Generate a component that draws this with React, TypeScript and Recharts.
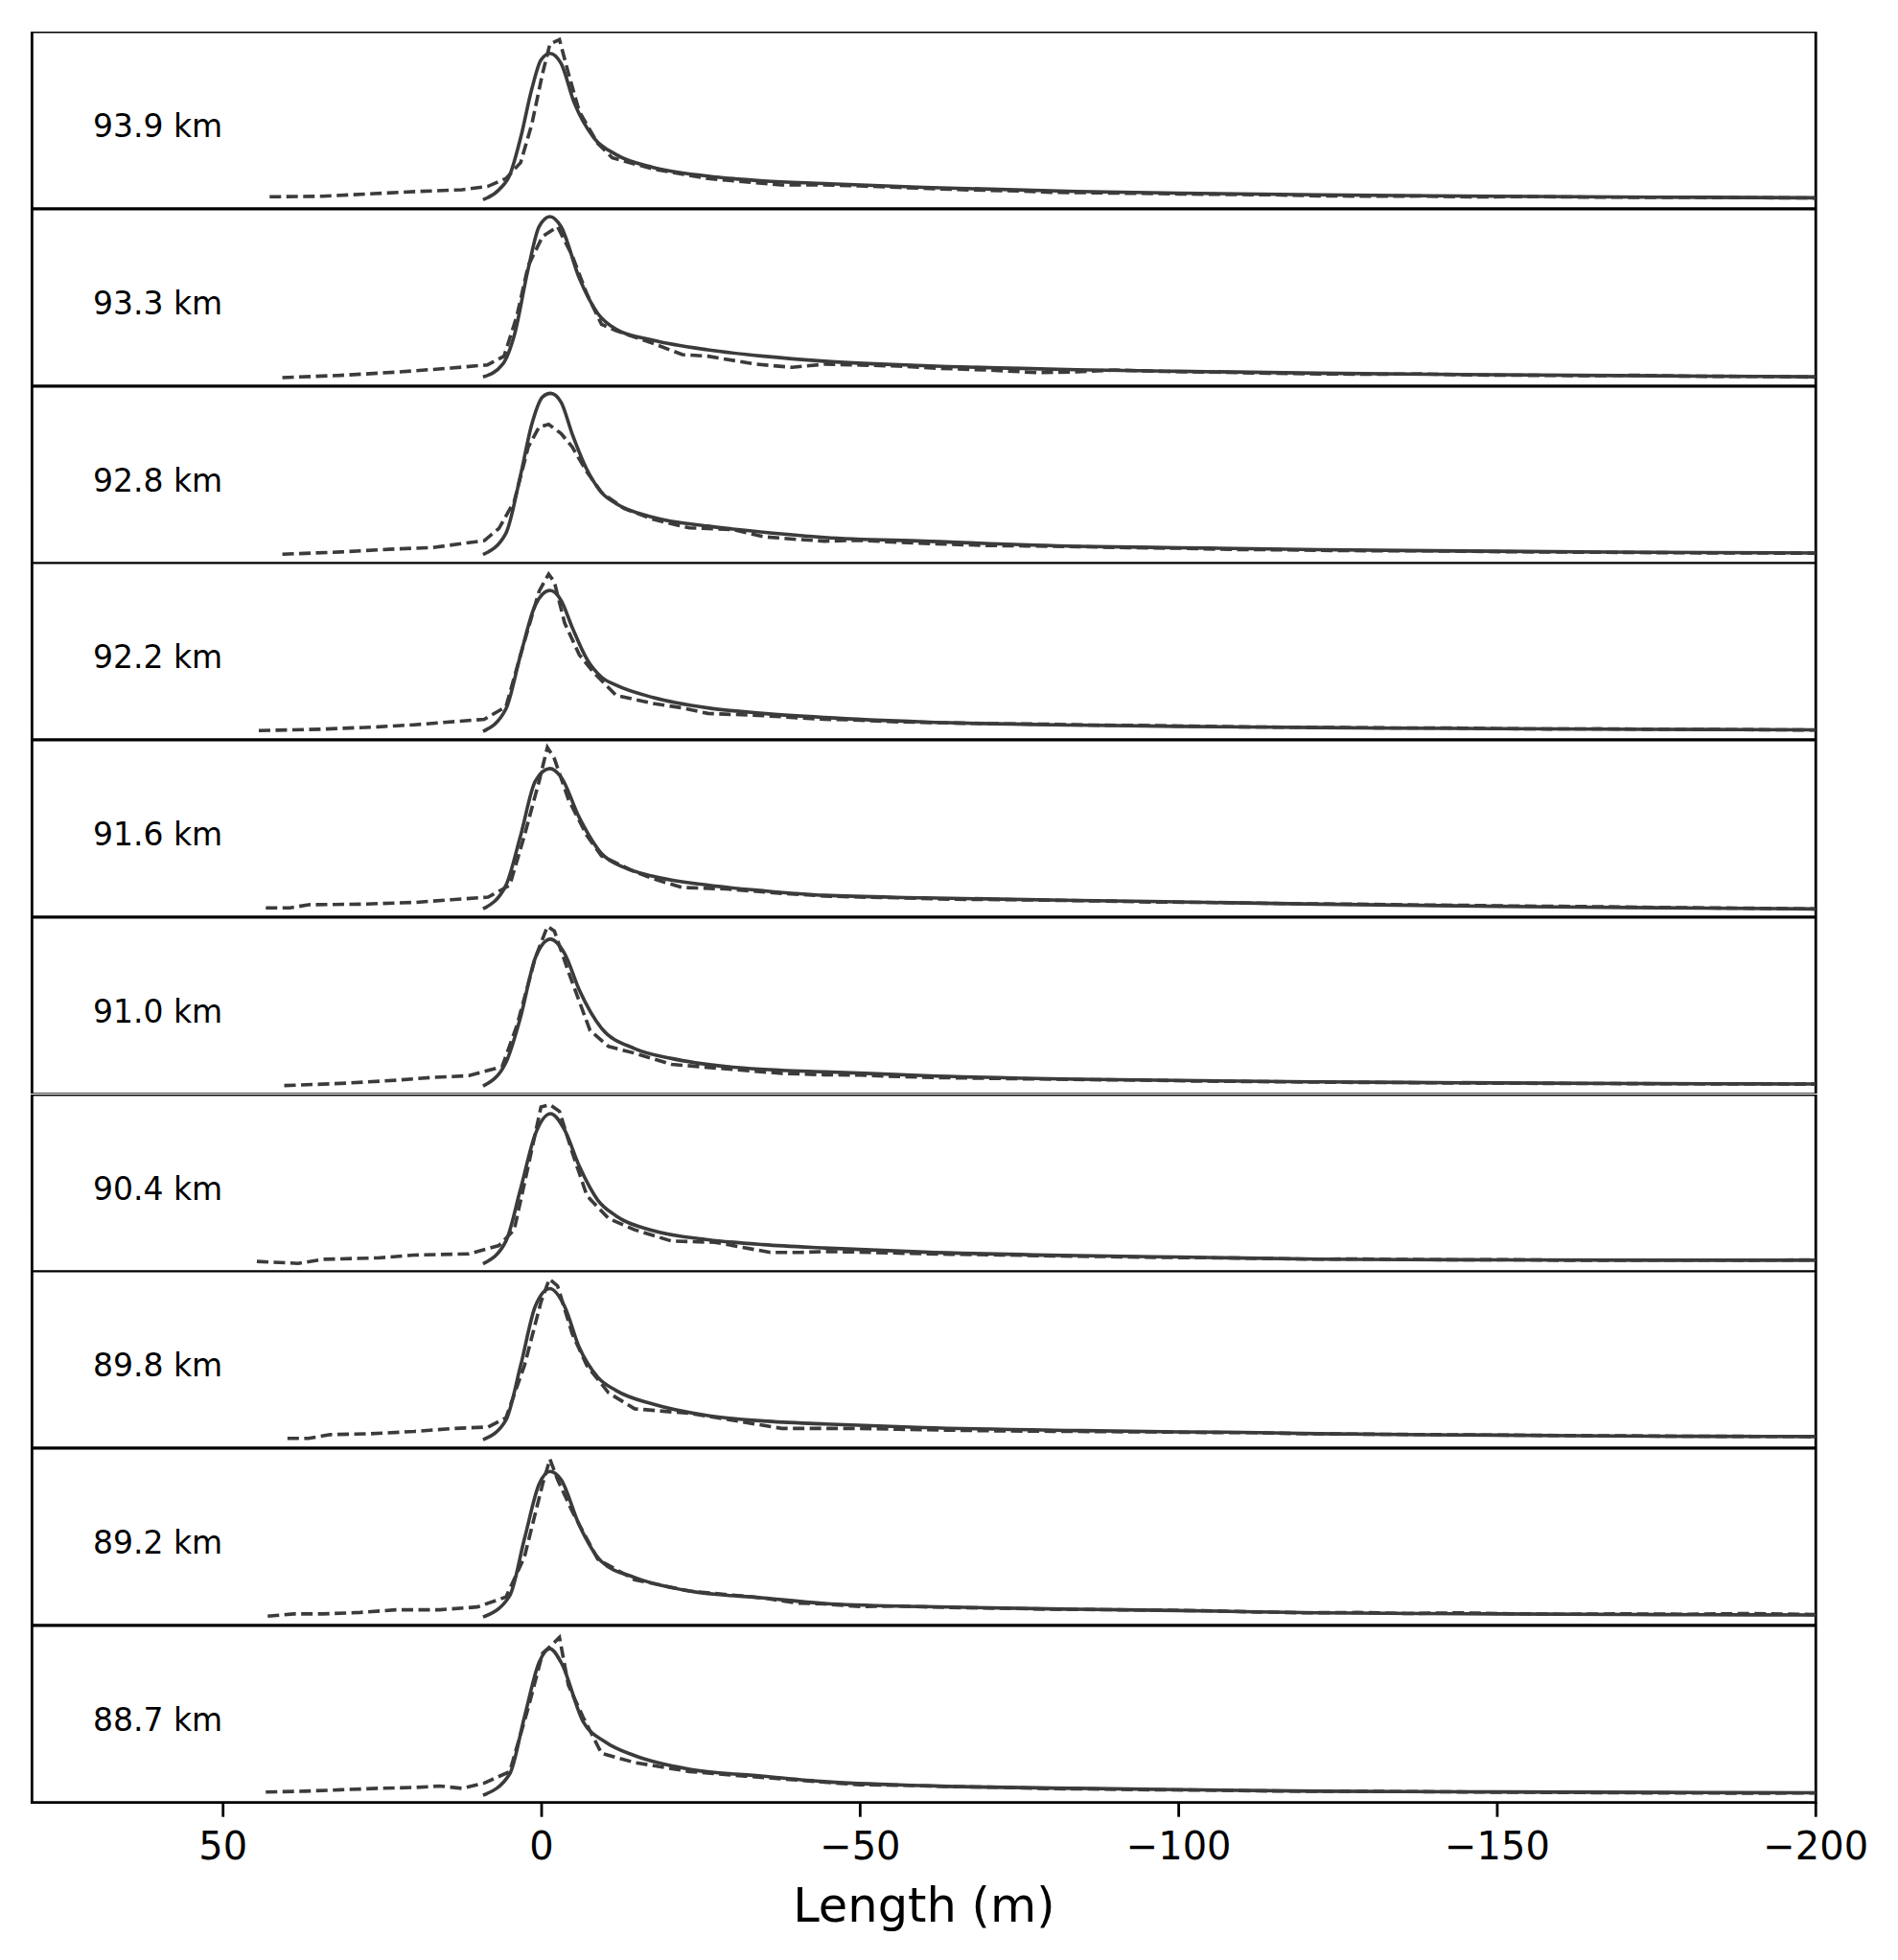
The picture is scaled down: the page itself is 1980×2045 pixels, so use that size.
import React from 'react';
import { LineChart, Line, XAxis, YAxis, ReferenceArea } from 'recharts';

type Pt = [number, number];

const panelLabels = ['93.9 km', '93.3 km', '92.8 km', '92.2 km', '91.6 km', '91.0 km', '90.4 km', '89.8 km', '89.2 km', '88.7 km'];
const xTicks = [50, 0, -50, -100, -150, -200];

const solid939: Pt[] = [[9.2,0.05],[6.7,0.107],[5.0,0.19],[3.3,0.40],[1.55,0.675],[0.1,0.84],[-1.3,0.877],[-3.05,0.82],[-5.1,0.60],[-8.2,0.40],[-11.7,0.305],[-17.5,0.233],[-26.1,0.184],[-34.8,0.157],[-44.4,0.142],[-60,0.12],[-84,0.097],[-100,0.088],[-122,0.078],[-150,0.07],[-175,0.065],[-200,0.061]];
const dashed939: Pt[] = [[42.7,0.067],[34.4,0.07],[26.3,0.085],[19.4,0.097],[12.5,0.107],[8.5,0.125],[5.6,0.17],[3.3,0.26],[1.55,0.476],[-0.15,0.765],[-1.3,0.93],[-2.8,0.955],[-4.2,0.765],[-5.9,0.55],[-8.8,0.368],[-11.1,0.287],[-17.5,0.224],[-26.1,0.17],[-37.6,0.134],[-44.4,0.134],[-50,0.128],[-56,0.12],[-62,0.112],[-68,0.105],[-75,0.1],[-80,0.092],[-86,0.09],[-92,0.087],[-100,0.083],[-108,0.08],[-115,0.078],[-122,0.072],[-130,0.07],[-138,0.071],[-146,0.066],[-155,0.068],[-164,0.065],[-172,0.064],[-180,0.063],[-190,0.062],[-200,0.06]];

const solid933: Pt[] = [[9.2,0.051],[6.1,0.123],[4.3,0.285],[2.1,0.664],[0.4,0.90],[-1.3,0.957],[-3.05,0.90],[-5.9,0.61],[-8.8,0.41],[-11.7,0.32],[-17.5,0.258],[-26.1,0.204],[-34.8,0.168],[-44.4,0.14],[-60,0.115],[-84,0.092],[-100,0.083],[-122,0.072],[-150,0.063],[-175,0.057],[-200,0.052]];
const dashed933: Pt[] = [[40.7,0.047],[31.5,0.06],[22.9,0.078],[14.2,0.101],[8.5,0.119],[5.9,0.168],[3.9,0.394],[2.1,0.68],[-0.15,0.845],[-2.5,0.90],[-4.8,0.736],[-7.1,0.52],[-9.4,0.348],[-11.7,0.312],[-17.5,0.24],[-22.1,0.177],[-26.1,0.168],[-33.6,0.123],[-39.3,0.105],[-44.4,0.123],[-50,0.118],[-56,0.112],[-62,0.1],[-70,0.09],[-78,0.075],[-84,0.08],[-90,0.09],[-98,0.082],[-106,0.078],[-114,0.072],[-122,0.068],[-130,0.066],[-138,0.068],[-146,0.062],[-155,0.06],[-164,0.058],[-172,0.06],[-180,0.055],[-190,0.054],[-200,0.05]];

const solid928: Pt[] = [[9.2,0.049],[5.6,0.17],[3.3,0.50],[1.55,0.785],[-0.15,0.94],[-1.4,0.96],[-3.05,0.91],[-4.8,0.73],[-7.1,0.53],[-9.4,0.40],[-11.7,0.337],[-17.5,0.26],[-26.1,0.21],[-34.8,0.176],[-44.4,0.146],[-60,0.125],[-84,0.096],[-100,0.088],[-122,0.077],[-150,0.068],[-175,0.062],[-200,0.058]];
const dashed928: Pt[] = [[40.7,0.051],[31.5,0.064],[24,0.079],[17.1,0.089],[9.0,0.128],[6.7,0.197],[4.3,0.35],[2.1,0.657],[0.4,0.77],[-1.1,0.785],[-3.05,0.733],[-4.8,0.657],[-7.1,0.516],[-9.4,0.40],[-12.9,0.31],[-17.5,0.248],[-23.2,0.20],[-27,0.195],[-30.1,0.19],[-34.8,0.15],[-40,0.135],[-44.4,0.125],[-50,0.13],[-56,0.118],[-62,0.11],[-70,0.1],[-76,0.098],[-84,0.094],[-92,0.088],[-100,0.085],[-108,0.078],[-116,0.076],[-124,0.072],[-132,0.07],[-140,0.07],[-148,0.066],[-156,0.064],[-165,0.062],[-175,0.06],[-185,0.058],[-200,0.057]];

const solid922: Pt[] = [[9.2,0.046],[5.6,0.174],[3.3,0.48],[1.0,0.76],[-1.3,0.843],[-3.05,0.787],[-4.8,0.634],[-7.1,0.455],[-9.4,0.353],[-11.7,0.307],[-17.5,0.238],[-26.1,0.179],[-34.8,0.148],[-44.4,0.125],[-60,0.1],[-84,0.082],[-100,0.075],[-122,0.068],[-150,0.062],[-175,0.058],[-200,0.055]];
const dashed922: Pt[] = [[44.4,0.051],[34.4,0.059],[25.7,0.072],[20,0.084],[15.4,0.097],[9.0,0.115],[5.6,0.186],[3.3,0.48],[0.4,0.838],[-1.1,0.935],[-2.0,0.89],[-3.6,0.66],[-5.9,0.48],[-8.2,0.378],[-11.7,0.25],[-17.5,0.204],[-22.1,0.179],[-26.1,0.148],[-34.8,0.135],[-44.4,0.115],[-50,0.11],[-56,0.1],[-62,0.096],[-70,0.09],[-78,0.088],[-86,0.082],[-94,0.08],[-102,0.076],[-110,0.072],[-118,0.07],[-126,0.068],[-134,0.066],[-142,0.066],[-150,0.062],[-158,0.06],[-166,0.061],[-175,0.058],[-185,0.057],[-200,0.054]];

const solid916: Pt[] = [[9.2,0.046],[5.6,0.179],[3.3,0.46],[1.0,0.766],[-1.3,0.838],[-3.05,0.79],[-5.9,0.562],[-9.4,0.358],[-12.9,0.28],[-17.5,0.23],[-26.1,0.179],[-34.8,0.148],[-44.4,0.122],[-60,0.108],[-84,0.093],[-100,0.085],[-122,0.072],[-150,0.06],[-175,0.052],[-200,0.045]];
const dashed916: Pt[] = [[43.3,0.051],[39.5,0.051],[36.6,0.069],[28.5,0.072],[19.9,0.082],[14.2,0.097],[8.4,0.112],[5.0,0.179],[2.7,0.46],[0.4,0.766],[-0.9,0.958],[-2.0,0.894],[-4.2,0.664],[-7.1,0.46],[-9.4,0.345],[-14.6,0.255],[-18,0.21],[-22.1,0.166],[-29,0.158],[-37.7,0.133],[-44.4,0.118],[-50,0.112],[-56,0.108],[-64,0.1],[-72,0.098],[-80,0.094],[-88,0.09],[-96,0.084],[-104,0.082],[-112,0.078],[-120,0.074],[-128,0.072],[-136,0.068],[-144,0.066],[-152,0.062],[-160,0.06],[-170,0.056],[-180,0.052],[-190,0.049],[-200,0.045]];

const solid910: Pt[] = [[9.2,0.046],[5.6,0.18],[3.3,0.437],[1.0,0.77],[-1.4,0.876],[-3.6,0.795],[-5.9,0.59],[-9.4,0.373],[-14.6,0.258],[-20.4,0.202],[-29,0.156],[-37.7,0.135],[-44.4,0.127],[-60,0.105],[-84,0.085],[-100,0.078],[-122,0.07],[-150,0.064],[-175,0.06],[-200,0.058]];
const dashed910: Pt[] = [[40.4,0.049],[31.5,0.061],[22.9,0.079],[17.1,0.095],[11.4,0.105],[6.2,0.156],[3.9,0.386],[1.0,0.77],[-0.9,0.948],[-2.0,0.922],[-4.2,0.692],[-7.6,0.36],[-10.5,0.27],[-14.6,0.232],[-20.4,0.169],[-29,0.143],[-37.7,0.118],[-44.4,0.11],[-50,0.108],[-56,0.1],[-62,0.094],[-70,0.09],[-78,0.086],[-86,0.082],[-94,0.08],[-102,0.075],[-110,0.072],[-118,0.07],[-126,0.067],[-134,0.066],[-142,0.064],[-150,0.062],[-160,0.061],[-170,0.06],[-180,0.059],[-190,0.058],[-200,0.057]];

const solid904: Pt[] = [[9.2,0.044],[5.6,0.172],[3.3,0.468],[1.0,0.776],[-1.4,0.892],[-3.6,0.80],[-5.9,0.596],[-8.8,0.404],[-11.7,0.314],[-17.5,0.231],[-26.1,0.18],[-34.8,0.152],[-44.4,0.133],[-60,0.11],[-84,0.09],[-100,0.082],[-122,0.07],[-150,0.066],[-175,0.064],[-200,0.064]];
const dashed904: Pt[] = [[44.7,0.057],[38.2,0.046],[34.4,0.069],[25.7,0.077],[20,0.093],[11.4,0.10],[6.7,0.147],[4.3,0.237],[2.1,0.596],[0.1,0.93],[-1.3,0.943],[-2.8,0.905],[-4.8,0.674],[-7.1,0.429],[-10.5,0.30],[-14.6,0.236],[-20.4,0.172],[-27.2,0.165],[-35.9,0.108],[-40.5,0.108],[-44.4,0.113],[-50,0.11],[-56,0.104],[-64,0.098],[-72,0.094],[-80,0.088],[-88,0.085],[-96,0.08],[-104,0.078],[-112,0.075],[-120,0.07],[-128,0.071],[-136,0.068],[-144,0.066],[-152,0.067],[-160,0.064],[-170,0.064],[-180,0.065],[-190,0.064],[-200,0.066]];

const solid898: Pt[] = [[9.2,0.046],[5.6,0.157],[3.3,0.465],[1.0,0.80],[-1.3,0.90],[-3.6,0.80],[-5.9,0.568],[-8.8,0.40],[-11.7,0.324],[-17.5,0.247],[-26.1,0.182],[-34.8,0.152],[-44.4,0.135],[-60,0.115],[-84,0.098],[-100,0.09],[-110,0.088],[-122,0.08],[-150,0.072],[-175,0.066],[-200,0.064]];
const dashed898: Pt[] = [[39.9,0.054],[36.6,0.054],[33.2,0.075],[26.9,0.08],[20,0.093],[13.7,0.11],[8.4,0.118],[5.6,0.17],[2.7,0.465],[0.1,0.825],[-1.2,0.954],[-2.5,0.915],[-4.8,0.645],[-7.1,0.465],[-10.5,0.311],[-14.6,0.221],[-23.2,0.195],[-29,0.162],[-37.7,0.11],[-44.4,0.11],[-50,0.11],[-56,0.105],[-64,0.1],[-72,0.096],[-80,0.094],[-88,0.092],[-96,0.09],[-104,0.087],[-112,0.086],[-120,0.08],[-128,0.078],[-136,0.076],[-144,0.074],[-152,0.072],[-160,0.07],[-170,0.068],[-180,0.066],[-190,0.065],[-200,0.064]];

const solid892: Pt[] = [[9.2,0.046],[5.0,0.167],[2.7,0.488],[0.4,0.797],[-1.3,0.869],[-3.05,0.823],[-5.9,0.566],[-9.4,0.36],[-14.6,0.27],[-23.2,0.193],[-34.8,0.154],[-44.4,0.123],[-60,0.105],[-84,0.09],[-100,0.083],[-122,0.07],[-150,0.064],[-175,0.06],[-200,0.058]];
const dashed892: Pt[] = [[43,0.051],[38.9,0.064],[34.4,0.064],[28.5,0.072],[22.9,0.087],[16,0.087],[10.1,0.103],[5.6,0.159],[2.7,0.386],[-0.15,0.797],[-1.3,0.938],[-2.5,0.823],[-4.8,0.643],[-8.8,0.373],[-14.6,0.257],[-23.2,0.193],[-34.8,0.154],[-40,0.125],[-44.4,0.12],[-50,0.105],[-56,0.108],[-64,0.1],[-72,0.096],[-80,0.09],[-88,0.088],[-96,0.085],[-104,0.082],[-112,0.075],[-120,0.07],[-128,0.072],[-136,0.066],[-144,0.07],[-152,0.065],[-160,0.062],[-170,0.064],[-180,0.062],[-190,0.066],[-200,0.06]];

const solid887: Pt[] = [[9.2,0.041],[5.0,0.162],[2.7,0.483],[0.4,0.792],[-1.3,0.869],[-3.05,0.792],[-6.5,0.458],[-10,0.342],[-14.6,0.265],[-23.2,0.188],[-34.8,0.149],[-44.4,0.118],[-60,0.095],[-84,0.08],[-100,0.073],[-122,0.064],[-150,0.06],[-175,0.057],[-200,0.055]];
const dashed887: Pt[] = [[43.3,0.059],[37.2,0.064],[31.5,0.072],[25.7,0.08],[20,0.085],[16,0.093],[12.5,0.08],[9.0,0.11],[5.0,0.175],[2.1,0.535],[-0.15,0.843],[-1.3,0.88],[-2.8,0.933],[-4.2,0.663],[-6.5,0.483],[-9.4,0.278],[-14.6,0.226],[-23.2,0.175],[-32,0.149],[-44.4,0.115],[-50,0.1],[-56,0.098],[-64,0.09],[-72,0.086],[-80,0.078],[-88,0.076],[-96,0.072],[-104,0.07],[-112,0.066],[-120,0.064],[-128,0.063],[-136,0.062],[-144,0.06],[-152,0.058],[-160,0.057],[-170,0.055],[-180,0.054],[-190,0.053],[-200,0.054]];

const solidSeries = [solid939, solid933, solid928, solid922, solid916, solid910, solid904, solid898, solid892, solid887];
const dashedSeries = [dashed939, dashed933, dashed928, dashed922, dashed916, dashed910, dashed904, dashed898, dashed892, dashed887];

const toRows = (pts: Pt[]) => pts.map(([x, y]) => ({ x, y }));

const W = 1980;
const TOP = 33.3;
const PANEL_H = 184.7;
const LEFT = 33.3;
const RIGHT = W - 1894.3;
const BOTTOM_AXIS_H = 164;
const LINE_COLOR = '#3b3b3b';
const LINE_W = 3.6;
const FRAME_W = 2.8;
const FONT = '"DejaVu Sans", sans-serif';

const fmt = (v: number) => (v < 0 ? '\u2212' + Math.abs(v) : String(v));

const PanelLabel = (props: any) => {
  const vb = props.viewBox || { x: 0, y: 0 };
  return (
    <text x={vb.x + 63.7} y={vb.y + 110} fontSize={33} fontFamily={FONT} fill="#000">
      {props.text}
    </text>
  );
};

function Panel({ index }: { index: number }) {
  const last = index === panelLabels.length - 1;
  const height = PANEL_H + (last ? BOTTOM_AXIS_H : 0);
  return (
    <div style={{ position: 'absolute', left: 0, top: TOP + index * PANEL_H, width: W, height }}>
      <LineChart width={W} height={height} margin={{ top: 0, right: RIGHT, bottom: 0, left: LEFT }}>
        <XAxis
          dataKey="x"
          type="number"
          domain={[-200, 80]}
          reversed
          allowDataOverflow
          hide={!last}
          ticks={xTicks}
          tickFormatter={fmt}
          height={last ? BOTTOM_AXIS_H : 0}
          axisLine={false}
          tickLine={{ stroke: '#000', strokeWidth: FRAME_W }}
          tickSize={15}
          tickMargin={16}
          tick={{ fontSize: 40, fill: '#000', fontFamily: FONT }}
          interval={0}
        />
        <YAxis type="number" domain={[0, 1]} hide allowDataOverflow />
        <Line
          data={toRows(dashedSeries[index])}
          dataKey="y"
          type="linear"
          stroke={LINE_COLOR}
          strokeWidth={LINE_W}
          strokeDasharray="12 5.5"
          dot={false}
          activeDot={false}
          isAnimationActive={false}
        />
        <Line
          data={toRows(solidSeries[index])}
          dataKey="y"
          type="monotone"
          stroke={LINE_COLOR}
          strokeWidth={LINE_W}
          dot={false}
          activeDot={false}
          isAnimationActive={false}
        />
        <ReferenceArea
          x1={80}
          x2={-200}
          y1={0}
          y2={1}
          fill="none"
          fillOpacity={0}
          stroke="#000"
          strokeWidth={FRAME_W}
          ifOverflow="visible"
          label={<PanelLabel text={panelLabels[index]} />}
        />
      </LineChart>
    </div>
  );
}

export default function App() {
  return (
    <div style={{ position: 'absolute', left: 0, top: 0, width: W, height: 2045, background: '#fff', overflow: 'hidden' }}>
      {panelLabels.map((_, i) => (
        <Panel key={i} index={i} />
      ))}
      <svg width={W} height={2045} style={{ position: 'absolute', left: 0, top: 0, pointerEvents: 'none' }}>
        <text x={(LEFT + 1894.3) / 2} y={2005} textAnchor="middle" fontSize={49.5} fontFamily={FONT} fill="#000">
          Length (m)
        </text>
      </svg>
    </div>
  );
}
